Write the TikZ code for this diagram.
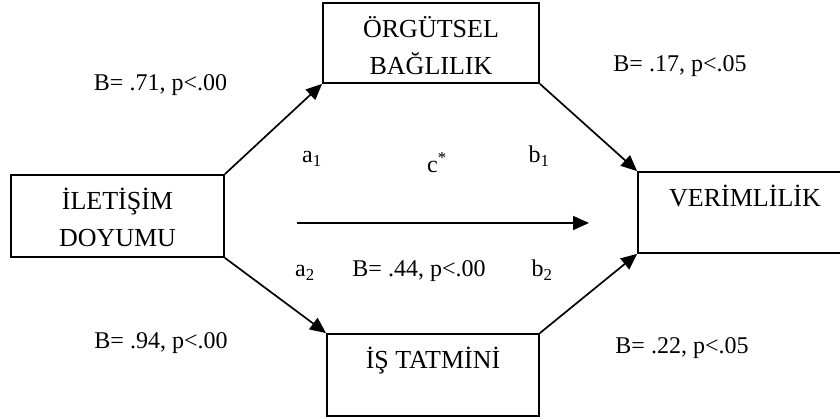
\documentclass[tikz,border=0pt]{standalone}
\usepackage{fontspec}
\setmainfont{Liberation Serif}
\usetikzlibrary{arrows.meta}

% text set at the top of a fixed-size box
\newcommand{\boxtext}[3]{\parbox[c][#2][t]{#1}{\centering\rule{0pt}{35pt}#3}}

\begin{document}
\begin{tikzpicture}[x=1pt,y=1pt,
    varbox/.style={draw,line width=1.8pt,inner sep=0pt,font=\fontsize{26}{37}\selectfont},
    coef/.style={anchor=base,font=\fontsize{24}{28}\selectfont},
    link/.style={line width=1.7pt,-{Triangle[length=16pt,width=14pt]}}]
    \useasboundingbox (0,0) rectangle (840,419);
    \clip (0,0) rectangle (840,419);

    % Variables
    \node[varbox] (iletisim) at (117.5,203) {\boxtext{213pt}{82pt}{İLETİŞİM\\DOYUMU}};
    \node[varbox] (orgutsel) at (431,376) {\boxtext{216pt}{80pt}{ÖRGÜTSEL\\BAĞLILIK}};
    \node[varbox] (istatmini) at (433,44) {\boxtext{212pt}{82pt}{İŞ TATMİNİ}};
    \node[varbox] (verim) at (745,206.5) {\boxtext{214pt}{81pt}{VERİMLİLİK}};

    % Mediation paths
    \draw[link] (iletisim.north east) -- (orgutsel.south west);
    \draw[link] (orgutsel.south east) -- (verim.north west);
    \draw[link] (iletisim.south east) -- (istatmini.north west);
    \draw[link] (istatmini.north east) -- (verim.south west);

    % Direct path
    \coordinate (cstart) at (297,196);
    \coordinate (cend) at (589,196);
    \draw[link] (cstart) -- (cend);

    % Path names
    \node[coef] (a1) at (312,256) {a\textsubscript{1}};
    \node[coef] (b1) at (539,256) {b\textsubscript{1}};
    \node[coef] (cdir) at (437,246) {c\textsuperscript{*}};
    \node[coef] (a2) at (305,142) {a\textsubscript{2}};
    \node[coef] (b2) at (542,142) {b\textsubscript{2}};

    % Coefficients
    \node[coef] (ba1) at (160.5,328) {B= .71, p<.00};
    \node[coef] (bb1) at (680,347) {B= .17, p<.05};
    \node[coef] (bc) at (419,142) {B= .44, p<.00};
    \node[coef] (ba2) at (161,70) {B= .94, p<.00};
    \node[coef] (bb2) at (682,65) {B= .22, p<.05};

\end{tikzpicture}
\end{document}
